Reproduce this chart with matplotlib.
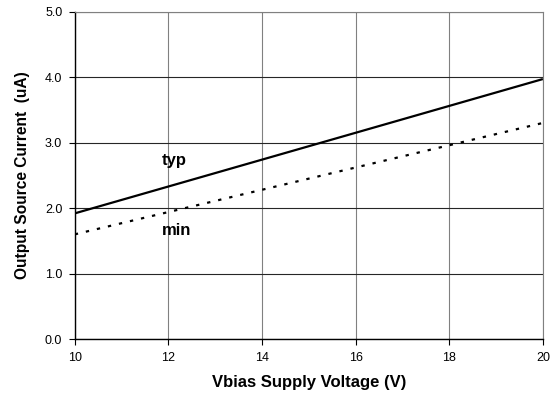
import numpy as np
import matplotlib.pyplot as plt

plt.rcParams['font.family'] = ['Liberation Sans', 'DejaVu Sans']

# Output source current vs. Vbias supply voltage
vbias = np.array([10.0, 20.0])
i_typ = np.array([1.92, 3.97])
i_min = np.array([1.60, 3.30])

x_ticks = [10, 12, 14, 16, 18, 20]
y_ticks = [0.0, 1.0, 2.0, 3.0, 4.0, 5.0]

fig = plt.figure(figsize=(5.5, 3.99), dpi=100)
ax = fig.add_axes([0.136, 0.150, 0.851, 0.821])

ax.plot(vbias, i_typ, color='black', lw=1.6, solid_capstyle='butt')
ax.plot(vbias, i_min, color='black', lw=1.6, linestyle=(0, (1.5, 3.6)))

ax.text(11.86, 2.66, 'typ', fontsize=12, fontweight='bold', va='baseline')
ax.text(11.86, 1.59, 'min', fontsize=12, fontweight='bold', va='baseline')

ax.set_xlim(10, 20)
ax.set_ylim(0, 5)
ax.set_xticks(x_ticks)
ax.set_yticks(y_ticks)
ax.set_yticklabels([f'{v:.1f}' for v in y_ticks])
ax.tick_params(direction='out', length=4, width=0.8, labelsize=9, pad=5)

ax.grid(True, axis='x', color='0.5', lw=0.8)
ax.grid(True, axis='y', color='0.15', lw=0.8)
ax.set_axisbelow(True)

for side in ['top', 'right']:
    ax.spines[side].set_color('0.5')
    ax.spines[side].set_linewidth(0.8)
for side in ['left', 'bottom']:
    ax.spines[side].set_color('black')
    ax.spines[side].set_linewidth(1.0)

ax.set_xlabel('Vbias Supply Voltage (V)', fontsize=12, fontweight='bold', labelpad=8)
ax.set_ylabel('Output Source Current  (uA)', fontsize=11.2, fontweight='bold', labelpad=11)

fig.savefig('out.png', dpi=100)
